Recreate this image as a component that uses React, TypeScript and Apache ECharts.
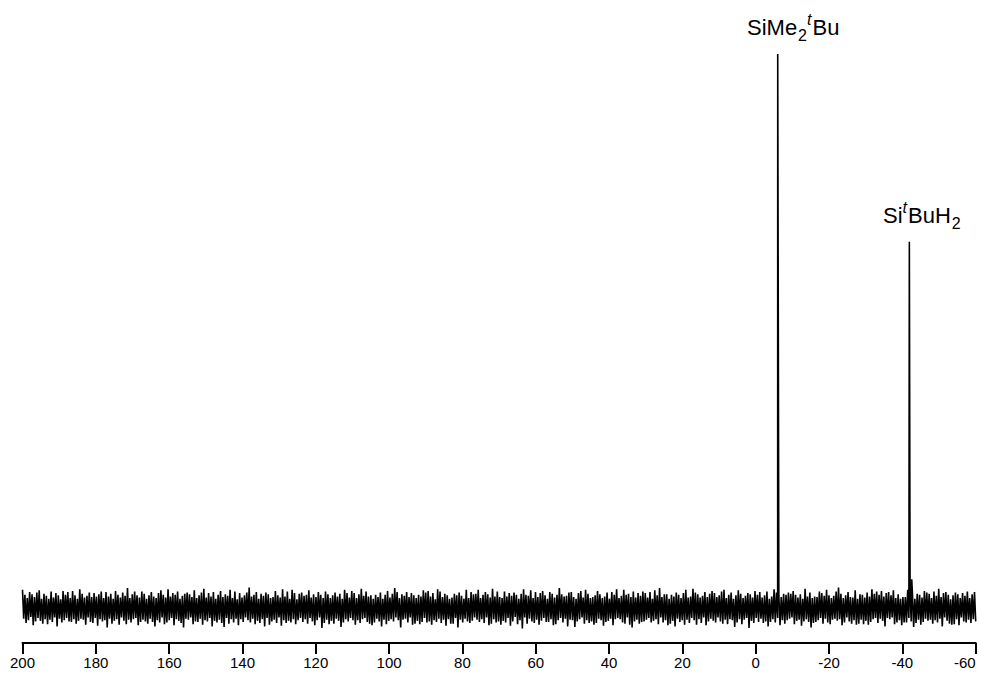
import React, { useEffect, useRef } from "react";
import * as echarts from "echarts";

// Axis ticks (ppm)
const axisMin = -60;
const axisMax = 200;
const axisStep = 20;

// Baseline noise, sampled evenly from 200 ppm to -60 ppm (arbitrary intensity units)
const noiseStartPpm = 200;
const noiseEndPpm = -60;
const noise = [
  33,-19,24,-27,18,-22,29,-16,25,-31,20,-24,28,-18,32,-23,17,-28,26,-20,
  22,-29,17,-21,30,-25,19,-17,27,-33,23,-19,16,-26,31,-22,24,-18,29,-24,
  18,-25,31,-20,23,-28,17,-23,34,-19,26,-21,19,-30,22,-17,28,-25,20,-27,
  27,-18,21,-32,25,-20,30,-24,18,-22,29,-35,21,-19,26,-28,17,-23,31,-20,
  24,-30,19,-17,28,-23,22,-29,36,-21,18,-26,25,-20,30,-18,23,-31,19,-25,
  30,-21,26,-24,17,-28,23,-19,29,-25,21,-33,18,-22,27,-26,32,-17,24,-29,
  19,-26,34,-22,21,-18,27,-31,24,-20,30,-23,17,-27,22,-35,26,-19,28,-21,
  25,-17,20,-29,32,-24,18,-25,23,-19,28,-30,35,-22,19,-24,27,-18,21,-33,
  29,-23,17,-26,24,-21,31,-27,20,-34,25,-18,22,-28,33,-20,18,-26,30,-19,
  16,-31,27,-20,19,-25,23,-17,28,-22,37,-26,21,-19,24,-29,29,-23,17,-27,
  26,-20,22,-33,28,-18,25,-30,18,-24,20,-21,31,-27,23,-17,19,-32,34,-22,
  21,-27,30,-23,17,-26,33,-20,27,-29,16,-22,26,-18,28,-25,22,-20,24,-28,
  32,-18,19,-24,25,-31,20,-22,29,-17,24,-36,18,-27,30,-21,25,-29,18,-23,
  23,-28,28,-19,21,-23,26,-34,17,-26,33,-20,27,-24,19,-18,31,-22,27,-30,
  18,-22,25,-27,35,-20,22,-18,30,-25,21,-28,23,-31,17,-26,24,-19,20,-24,
  28,-33,17,-21,24,-29,31,-23,19,-20,26,-24,36,-17,29,-22,18,-35,25,-21,
  22,-19,29,-26,20,-17,27,-30,23,-28,18,-23,24,-29,21,-25,32,-18,28,-26,
  31,-24,21,-30,27,-22,16,-25,34,-19,30,-27,20,-21,26,-32,23,-20,17,-28,
  19,-28,26,-18,23,-35,28,-21,22,-26,17,-19,33,-24,18,-27,29,-23,25,-17,
  26,-21,33,-25,18,-20,24,-27,29,-17,25,-31,19,-28,35,-20,21,-26,30,-24,
  20,-30,18,-23,30,-26,21,-18,27,-32,22,-24,28,-16,24,-29,17,-22,26,-37,
  34,-17,24,-28,22,-19,32,-24,18,-27,29,-21,20,-30,27,-23,31,-18,23,-25,
  17,-25,29,-20,26,-31,19,-29,24,-22,36,-18,25,-26,21,-19,22,-33,28,-21,
  29,-22,20,-34,17,-24,27,-20,31,-17,19,-28,33,-22,26,-27,18,-24,20,-30,
  23,-27,31,-19,25,-22,18,-32,21,-25,28,-23,17,-19,29,-31,24,-20,34,-18,
  18,-20,22,-26,33,-28,24,-17,26,-30,20,-35,30,-24,19,-21,27,-28,22,-25,
  30,-24,27,-21,19,-18,29,-26,17,-23,32,-20,23,-29,36,-17,20,-26,25,-22,
  25,-31,17,-28,24,-23,21,-33,28,-19,24,-25,18,-22,27,-30,33,-21,19,-27,
  21,-18,35,-22,28,-30,25,-20,19,-27,22,-17,29,-31,20,-24,26,-19,31,-23,
  27,-26,20,-17,23,-24,30,-28,33,-21,18,-29,24,-20,28,-22,17,-34,23,-26,
  32,-20,26,-29,18,-21,22,-18,27,-36,25,-23,19,-27,31,-18,24,-25,29,-19,
  19,-27,23,-24,30,-33,17,-25,21,-20,34,-26,28,-18,22,-31,20,-22,26,-28,
  24,-22,28,-19,26,-17,31,-29,24,-23,19,-21,25,-32,17,-24,35,-20,21,-25,
  28,-35,18,-27,21,-25,20,-22,30,-18,27,-28,22,-19,33,-26,23,-29,18,-21,
  22,-19,30,-23,37,-20,26,-31,18,-26,23,-17,29,-24,20,-28,19,-22,32,-30,
  17,-28,25,-21,24,-29,19,-23,28,-30,21,-25,34,-20,26,-18,30,-27,24,-19,
  31,-23,21,-33,27,-18,29,-20,23,-17,32,-29,18,-26,25,-22,17,-31,20,-26,
  20,-26,33,-18,19,-24,25,-34,17,-27,26,-21,24,-30,19,-25,31,-19,28,-23,
  26,-21,18,-28,30,-22,22,-26,35,-19,20,-33,27,-17,29,-23,24,-28,16,-30,
  23,-29,28,-20,25,-31,18,-17,27,-24,22,-26,30,-21,18,-27,25,-20,29,-24,
];

// Peaks (ppm, intensity)
const peakPpm = [-6.0, -41.9, -42.55];
const peakHeight = [1000, 661, 52];

export default function App() {
  const ref = useRef<HTMLDivElement>(null);

  useEffect(() => {
    if (!ref.current) return;
    const chart = echarts.init(ref.current, null, { renderer: "svg" });

    const step = (noiseStartPpm - noiseEndPpm) / (noise.length - 1);
    const pts: number[][] = noise.map((v, i) => [noiseStartPpm - i * step, v]);
    peakPpm.forEach((p, i) => pts.push([p, peakHeight[i]]));
    pts.sort((a, b) => b[0] - a[0]);

    const font = "'Liberation Sans', Arial, Helvetica, sans-serif";
    const LH = 32;
    const base = { fontSize: 22, fontFamily: font, fill: "#000", lineHeight: LH, verticalAlign: "middle" };
    const rich = {
      n: { fontSize: 22, fontFamily: font, color: "#000", lineHeight: LH, verticalAlign: "middle" },
      sub: { fontSize: 16, fontFamily: font, color: "#000", lineHeight: LH, verticalAlign: "bottom", padding: [0, 0, 0, 1] },
      sup: { fontSize: 16, fontFamily: font, color: "#000", fontStyle: "italic", lineHeight: LH, verticalAlign: "top", padding: [0, 1, 0, 0] },
    };

    chart.setOption({
      animation: false,
      backgroundColor: "#fff",
      grid: { left: 22.5, right: 5.3, top: 54, bottom: 32, outerBoundsMode: "none", containLabel: false },
      xAxis: {
        type: "value",
        inverse: true,
        min: axisMin,
        max: axisMax,
        interval: axisStep,
        axisLine: { show: true, onZero: false, lineStyle: { color: "#000", width: 2 } },
        axisTick: { show: true, inside: false, length: 11, lineStyle: { color: "#000", width: 2 } },
        axisLabel: { color: "#000", fontSize: 15, fontFamily: font, margin: 12, alignMinLabel: "right" },
        splitLine: { show: false },
      },
      yAxis: { type: "value", show: false, min: -63, max: 1000 },
      series: [
        {
          type: "line",
          data: pts,
          symbol: "none",
          showSymbol: false,
          lineStyle: { color: "#000", width: 1.6 },
          z: 3,
        },
      ],
      graphic: [
        {
          type: "text",
          left: 747,
          top: 11.5,
          style: { ...base, text: "{n|SiMe}{sub|2}{sup|t}{n|Bu}", rich },
        },
        {
          type: "text",
          left: 883,
          top: 199,
          style: { ...base, text: "{n|Si}{sup|t}{n|BuH}{sub|2}", rich },
        },
      ],
    });

    return () => chart.dispose();
  }, []);

  return (
    <div
      ref={ref}
      style={{ position: "fixed", left: 0, top: 0, width: 981, height: 675, background: "#fff" }}
    />
  );
}
